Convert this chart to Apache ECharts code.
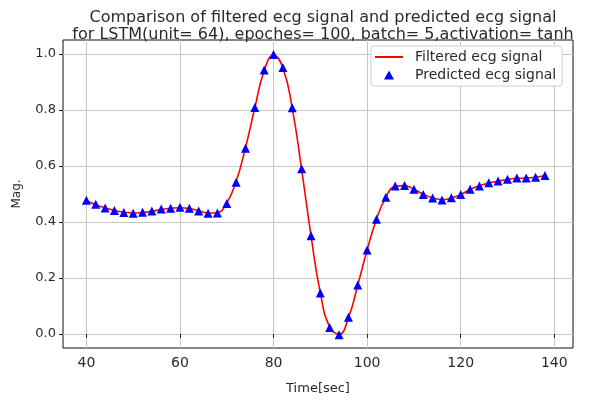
<!DOCTYPE html>
<html>
<head>
<meta charset="utf-8">
<script src="https://cdn.jsdelivr.net/npm/echarts@6/dist/echarts.min.js"></script>
<style>html,body{margin:0;padding:0;background:#fff}#c{width:593px;height:400px}</style>
</head>
<body>
<div id="c"></div>
<script>
var timeSec = [40,42,44,46,48,50,52,54,56,58,60,62,64,66,68,70,72,74,76,78,80,82,84,86,88,90,92,94,96,98,100,102,104,106,108,110,112,114,116,118,120,122,124,126,128,130,132,134,136,138];
var predicted = [0.478,0.463,0.450,0.441,0.434,0.431,0.435,0.439,0.446,0.449,0.453,0.449,0.439,0.431,0.432,0.466,0.542,0.663,0.809,0.943,0.998,0.952,0.808,0.590,0.351,0.146,0.023,-0.003,0.060,0.175,0.300,0.410,0.488,0.529,0.530,0.517,0.498,0.486,0.479,0.487,0.498,0.517,0.529,0.540,0.546,0.553,0.557,0.557,0.560,0.566];
var filtered = [0.476,0.462,0.450,0.441,0.435,0.432,0.434,0.438,0.445,0.449,0.451,0.448,0.440,0.432,0.434,0.468,0.545,0.665,0.808,0.940,0.995,0.950,0.806,0.588,0.352,0.147,0.025,0.000,0.058,0.175,0.300,0.410,0.488,0.527,0.530,0.517,0.499,0.486,0.480,0.486,0.498,0.516,0.529,0.539,0.546,0.552,0.556,0.557,0.560,0.565];
var xTicks = [40,60,80,100,120,140];
var yTicks = [0,0.2,0.4,0.6,0.8,1.0];
var titleLines = ['Comparison of filtered ecg signal and predicted ecg signal','for LSTM(unit= 64), epoches= 100, batch= 5,activation= tanh'];

var font = 'DejaVu Sans';
var chart = echarts.init(document.getElementById('c'));
function zip(xs, ys){ return xs.map(function(x,i){ return [x, ys[i]]; }); }
chart.setOption({
  animation: false,
  backgroundColor: '#fff',
  title: {
    text: titleLines.join('\n'),
    left: 318, top: 4, textAlign: 'center',
    textStyle: { fontFamily: font, fontSize: 16, fontWeight: 'normal', color: '#2a2a2a', lineHeight: 17 }
  },
  grid: { left: 63, right: 20, top: 40, bottom: 38, show: true, borderColor: '#111', borderWidth: 1, backgroundColor: 'transparent' },
  legend: {
    orient: 'vertical', left: 371, top: 46,
    padding: [4, 6, 4, 4],
    backgroundColor: '#fff', borderColor: '#d0d0d0', borderWidth: 1, borderRadius: 3,
    itemWidth: 28, itemHeight: 9, itemGap: 4,
    symbolKeepAspect: true,
    textStyle: { fontFamily: font, fontSize: 14, color: '#2a2a2a', padding: [0,0,0,7] },
    data: [
      { name: 'Filtered ecg signal', icon: 'path://M0,0H28V2H0Z' },
      { name: 'Predicted ecg signal', icon: 'path://M5,0L10,9L0,9Z' }
    ]
  },
  xAxis: {
    type: 'value', min: 35, max: 144,
    name: 'Time[sec]', nameLocation: 'middle', nameGap: 34,
    nameTextStyle: { fontFamily: font, fontSize: 13, color: '#2a2a2a' },
    axisLine: { show: false },
    axisTick: { show: true, length: 4, inside: false, customValues: xTicks, lineStyle: { color: '#222' } },
    axisLabel: { customValues: xTicks, fontFamily: font, fontSize: 14, color: '#2a2a2a', margin: 8 },
    splitLine: { show: true, lineStyle: { color: '#c8c8c8', width: 1 } }
  },
  yAxis: {
    type: 'value', min: -0.05, max: 1.05,
    name: 'Mag.', nameLocation: 'middle', nameGap: 40,
    nameTextStyle: { fontFamily: font, fontSize: 12, color: '#2a2a2a' },
    axisLine: { show: false },
    axisTick: { show: true, length: 4, inside: false, customValues: yTicks, lineStyle: { color: '#222' } },
    axisLabel: { customValues: yTicks, fontFamily: font, fontSize: 13, color: '#2a2a2a', margin: 7,
      formatter: function(v){ return v.toFixed(1); } },
    splitLine: { show: true, lineStyle: { color: '#c8c8c8', width: 1 } }
  },
  series: [
    {
      name: 'Filtered ecg signal', type: 'line', data: zip(timeSec, filtered),
      smooth: 0.5, showSymbol: false, symbol: 'none',
      lineStyle: { color: '#ff0000', width: 1.6 }, itemStyle: { color: '#ff0000' }, z: 2
    },
    {
      name: 'Predicted ecg signal', type: 'scatter', data: zip(timeSec, predicted),
      symbol: 'triangle', symbolSize: 9,
      itemStyle: { color: '#0000ff', opacity: 1 }, z: 3
    }
  ]
});
</script>
</body>
</html>
